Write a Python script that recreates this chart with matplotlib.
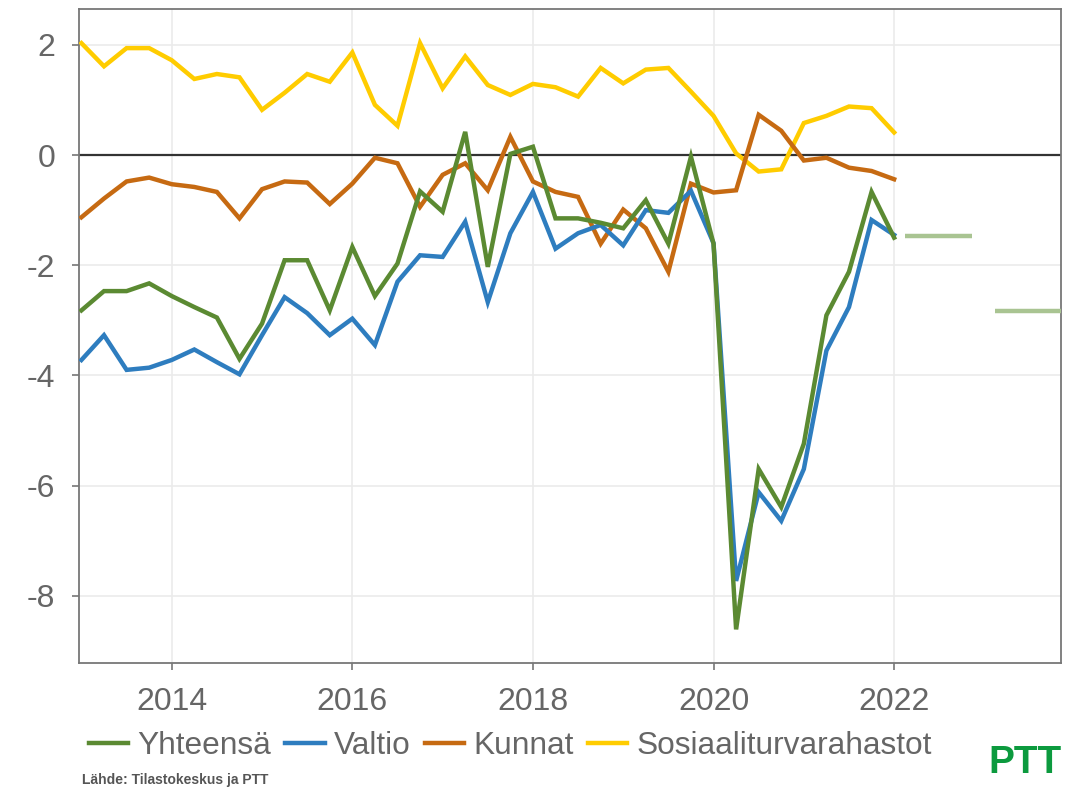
import matplotlib
matplotlib.use("Agg")
import matplotlib.pyplot as plt
import numpy as np

plt.rcParams['font.family'] = ['Liberation Sans', 'DejaVu Sans']

start_year = 2013
quarters = np.arange(37)
x = start_year + quarters * 0.25

yhteensa = [-2.82, -2.47, -2.47, -2.33, -2.56, -2.76, -2.95, -3.70, -3.06, -1.91,
            -1.91, -2.82, -1.67, -2.56, -1.97, -0.66, -1.03, 0.42, -2.03, 0.02,
            0.15, -1.15, -1.15, -1.23, -1.33, -0.82, -1.61, -0.03, -1.61, -8.61,
            -5.70, -6.39, -5.24, -2.91, -2.12, -0.67, -1.50]
valtio = [-3.72, -3.27, -3.90, -3.86, -3.72, -3.53, -3.76, -3.98, -3.27, -2.58,
          -2.87, -3.27, -2.97, -3.45, -2.30, -1.82, -1.85, -1.21, -2.67, -1.42,
          -0.67, -1.70, -1.42, -1.27, -1.64, -1.00, -1.05, -0.65, -1.60, -7.73,
          -6.12, -6.64, -5.70, -3.55, -2.76, -1.18, -1.45]
kunnat = [-1.13, -0.79, -0.48, -0.41, -0.53, -0.58, -0.67, -1.15, -0.62, -0.48,
          -0.50, -0.89, -0.52, -0.05, -0.15, -0.94, -0.36, -0.15, -0.64, 0.33,
          -0.48, -0.67, -0.76, -1.61, -0.99, -1.33, -2.12, -0.52, -0.68, -0.64,
          0.73, 0.44, -0.10, -0.05, -0.23, -0.29, -0.44]
sosiaali = [2.03, 1.61, 1.94, 1.94, 1.72, 1.38, 1.47, 1.41, 0.82, 1.13,
            1.47, 1.33, 1.86, 0.91, 0.53, 2.03, 1.21, 1.79, 1.27, 1.09,
            1.29, 1.23, 1.06, 1.58, 1.30, 1.55, 1.58, 1.15, 0.71, 0.03,
            -0.30, -0.26, 0.58, 0.71, 0.88, 0.85, 0.41]

forecast_years = [2022, 2023]
forecast_values = [-1.47, -2.83]

labels = ['Yhteensä', 'Valtio', 'Kunnat', 'Sosiaaliturvarahastot']
colors = ['#5b8a32', '#2e7dbf', '#c66a12', '#ffcc00']
x_ticks = [2014, 2016, 2018, 2020, 2022]
y_ticks = [-8, -6, -4, -2, 0, 2]

fig = plt.figure(figsize=(10.66, 7.87), dpi=100)
ax = fig.add_axes([79/1066, 1 - 663/787, (1061-79)/1066, (663-9)/787])

ax.set_xlim(2012.973, 2023.848)
ax.set_ylim(-9.22, 2.65)

ax.grid(True, color='#ebebeb', linewidth=1.2, zorder=0)
ax.set_axisbelow(True)
ax.axhline(0, color='#333333', linewidth=1.6, zorder=1)

series = [yhteensa, valtio, kunnat, sosiaali]
order = [3, 2, 1, 0]
handles = {}
for i in order:
    h, = ax.plot(x, series[i], color=colors[i], linewidth=3.2, label=labels[i],
                 solid_joinstyle='miter', zorder=3 + (3 - i))
    handles[i] = h

for fy, fv in zip(forecast_years, forecast_values):
    ax.plot([fy + 0.12, fy + 0.86], [fv, fv], color='#a9c492', linewidth=3.2,
            solid_capstyle='butt', zorder=3)

ax.set_xticks(x_ticks)
ax.set_xticklabels([str(t) for t in x_ticks])
ax.set_yticks(y_ticks)
ax.set_yticklabels([str(t) for t in y_ticks])
ax.tick_params(axis='both', colors='#777777', labelcolor='#666666',
               labelsize=23, length=5, width=1.2, pad=12)
for s in ax.spines.values():
    s.set_color('#777777')
    s.set_linewidth(1.3)

fig.legend([handles[i] for i in range(4)], labels, loc='center',
           bbox_to_anchor=(510/1066, 1 - 746/787), ncol=4, frameon=False,
           fontsize=22.8, handlelength=1.25, handletextpad=0.28,
           columnspacing=0.45, labelcolor='#666666')

fig.text(82/1066, 1 - 780/787, 'Lähde: Tilastokeskus ja PTT',
         family=['Liberation Sans Narrow', 'Liberation Sans', 'DejaVu Sans'],
         fontsize=10, fontweight='bold', color='#555555', va='center', ha='left')
fig.text(1025/1066, 1 - 763/787, 'PTT', fontsize=28, fontweight='bold',
         color='#0c9a3e', ha='center', va='center',
         family=['Liberation Sans Narrow', 'Liberation Sans', 'DejaVu Sans'])

fig.savefig('out.png', dpi=100)
